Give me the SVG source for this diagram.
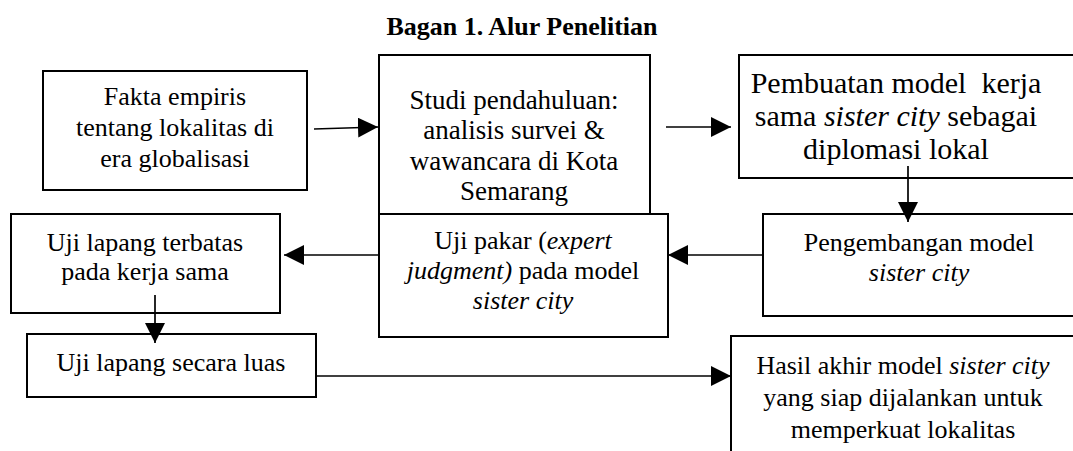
<svg xmlns="http://www.w3.org/2000/svg" width="1073" height="451" viewBox="0 0 1073 451">
<style>
.box{fill:#fff;stroke:#000;stroke-width:2}
.t{font-family:"Liberation Serif","Times New Roman",serif;font-size:26px;fill:#000;text-anchor:middle}
.title{font-family:"Liberation Serif","Times New Roman",serif;font-size:26px;font-weight:bold;fill:#000;text-anchor:middle}
.c{stroke:#000;stroke-width:1.7;fill:none;marker-end:url(#ah)}
.i{font-style:italic}
.big{font-size:30px}
.mid{font-size:27px}
</style>
<defs>
<marker id="ah" markerUnits="userSpaceOnUse" markerWidth="20" markerHeight="20" refX="20" refY="10" orient="auto">
<path d="M0,0 L20,10 L0,20 Z" fill="#000"/>
</marker>
</defs>
<rect width="1073" height="451" fill="#fff"/>
<text class="title" x="522" y="35">Bagan 1. Alur Penelitian</text>

<g id="fakta">
<rect class="box" x="43" y="71" width="264" height="119"/>
<text class="t" x="175" y="105">Fakta empiris</text>
<text class="t" x="175" y="136">tentang lokalitas di</text>
<text class="t" x="175" y="167">era globalisasi</text>
</g>

<g id="studi">
<rect class="box" x="379" y="55" width="271" height="159"/>
<text class="t mid" x="514" y="109">Studi pendahuluan:</text>
<text class="t mid" x="514" y="139">analisis survei &amp;</text>
<text class="t mid" x="514" y="170">wawancara di Kota</text>
<text class="t mid" x="514" y="200">Semarang</text>
</g>

<g id="pembuatan">
<rect class="box" x="739" y="55" width="350" height="123"/>
<text class="t big" x="896" y="93" xml:space="preserve">Pembuatan model  kerja</text>
<text class="t big" x="896" y="126">sama <tspan class="i">sister city</tspan> sebagai</text>
<text class="t big" x="896" y="159">diplomasi lokal</text>
</g>

<g id="pengembangan">
<rect class="box" x="763" y="214" width="330" height="102"/>
<text class="t" x="919" y="251">Pengembangan model</text>
<text class="t i" x="919" y="281">sister city</text>
</g>

<g id="ujipakar">
<rect class="box" x="379" y="214" width="289" height="123"/>
<text class="t" x="523" y="249">Uji pakar (<tspan class="i">expert</tspan></text>
<text class="t" x="523" y="279"><tspan class="i">judgment)</tspan> pada model</text>
<text class="t i" x="523" y="309">sister city</text>
</g>

<g id="ujiterbatas">
<rect class="box" x="11" y="214" width="269" height="99"/>
<text class="t" x="145" y="251">Uji lapang terbatas</text>
<text class="t" x="145" y="280">pada kerja sama</text>
</g>

<g id="ujiluas">
<rect class="box" x="27" y="334" width="289" height="63"/>
<text class="t" x="171" y="371">Uji lapang secara luas</text>
</g>

<g id="hasil">
<rect class="box" x="731" y="336" width="360" height="130"/>
<text class="t" x="903" y="374">Hasil akhir model <tspan class="i">sister city</tspan></text>
<text class="t" x="903" y="406">yang siap dijalankan untuk</text>
<text class="t" x="903" y="438">memperkuat lokalitas</text>
</g>

<g id="connectors">
<line class="c" x1="314" y1="129" x2="378" y2="127"/>
<line class="c" x1="666" y1="127" x2="731" y2="127"/>
<line class="c" x1="908" y1="166" x2="908" y2="222"/>
<line class="c" x1="763" y1="255" x2="668" y2="255"/>
<line class="c" x1="379" y1="255" x2="284" y2="255"/>
<line class="c" x1="155" y1="295" x2="155" y2="343"/>
<line class="c" x1="316" y1="376" x2="731" y2="376"/>
</g>
</svg>
